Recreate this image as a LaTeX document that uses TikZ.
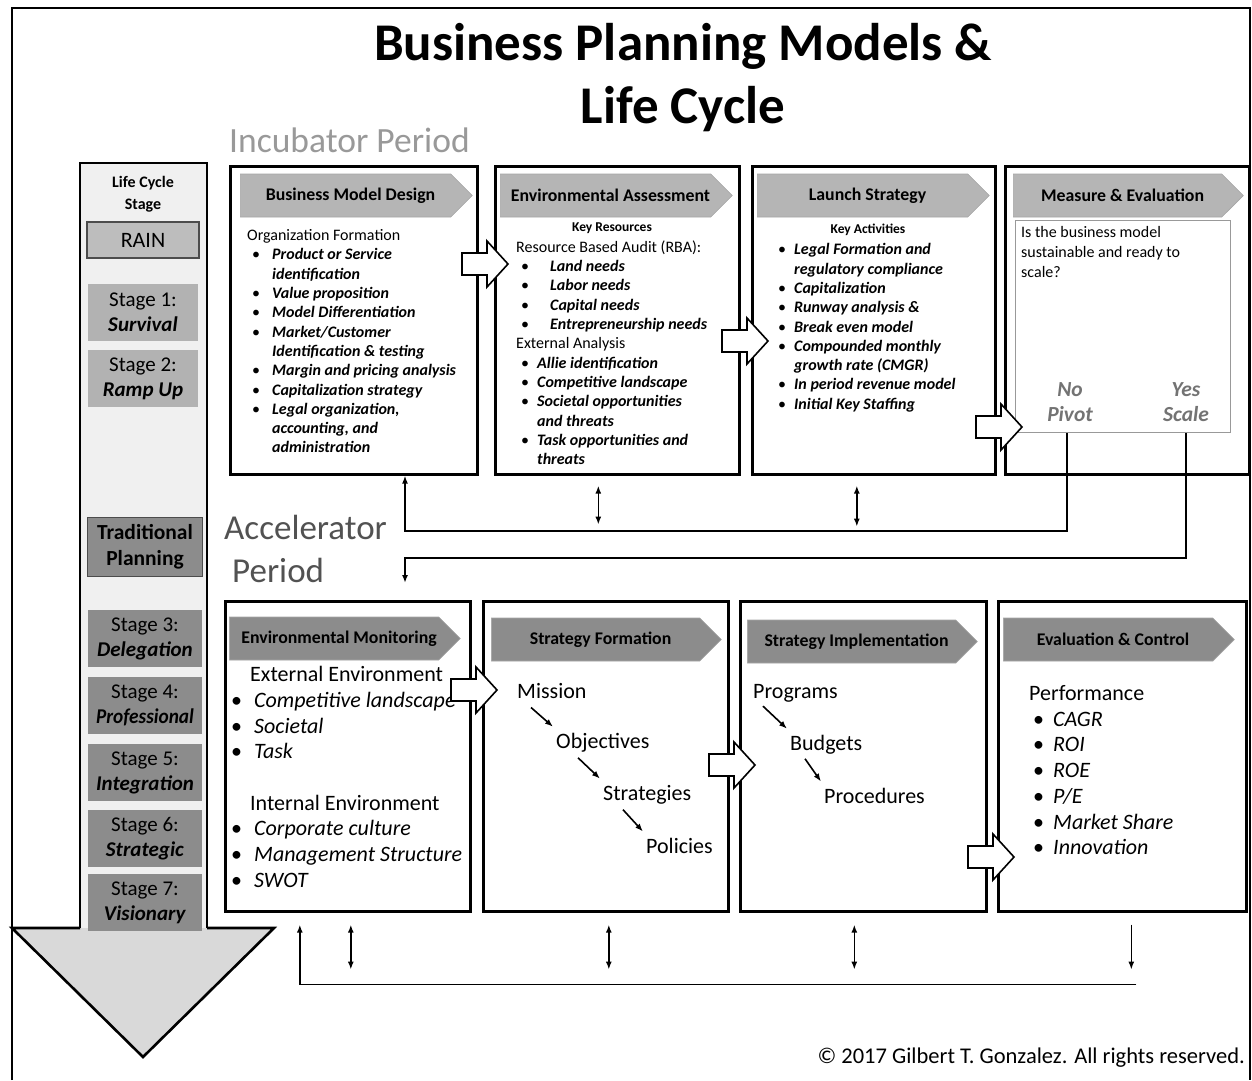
\documentclass[tikz,border=0pt]{standalone}
\usepackage{fontspec}
\setmainfont{Carlito}
\usetikzlibrary{positioning,shapes.symbols,arrows.meta}

\definecolor{barlight}{gray}{0.71}
\definecolor{bardark}{gray}{0.55}
\definecolor{stagelight}{gray}{0.70}
\definecolor{stagedark}{gray}{0.55}
\definecolor{shaft}{gray}{0.94}
\definecolor{arrowhead}{gray}{0.85}

\newcommand{\bul}[2][5pt]{\hspace*{#1}\makebox[#2][l]{\textbullet}}
\newcommand{\bi}[1]{\textbf{\textit{#1}}}
\newcommand{\fs}[2]{\fontsize{#1}{#2}\selectfont}

\begin{document}
\begin{tikzpicture}[x=1pt,y=-1pt,
  panel/.style={draw,line width=2.6pt,fill=white,anchor=north west,inner sep=0pt},
  header/.style={signal,signal to=east,fill=#1,draw=black!35,line width=0.6pt,anchor=west,
    minimum width=232pt,minimum height=43pt,inner sep=0pt,font=\fs{17.8}{20}\bfseries,
    execute at begin node=\hspace*{10pt}},
  notes/.style={anchor=north west,align=left,inner sep=0pt,font=\fs{16}{19.3}},
  bignotes/.style={anchor=north west,align=left,inner sep=0pt,font=\fs{22}{25.7}},
  tag/.style={font=\fs{13.5}{15}\bfseries,inner sep=0pt},
  steplabel/.style={anchor=west,inner sep=0pt,font=\fs{22}{25}},
  stagebox/.style={fill=#1,minimum width=112pt,minimum height=57pt,inner sep=0pt,align=center,font=\fs{21}{25}},
  markbox/.style={fill=#1,draw=black!70,line width=1.4pt,inner sep=0pt,align=center},
  decision/.style={align=center,inner sep=0pt,text=black!55,font=\fs{21.5}{25}\bfseries\itshape},
  flow/.style={line width=1.6pt,-{Latex[length=8pt,width=6pt]}},
  twoway/.style={line width=1.6pt,{Latex[length=8pt,width=6pt]}-{Latex[length=8pt,width=6pt]}},
  fatarrow/.pic={\draw[line width=1.6pt,fill=white] (0,-11) -- (25,-11) -- (25,-23) -- (46,0) -- (25,23) -- (25,11) -- (0,11) -- cycle;},
]
\useasboundingbox (0,0) rectangle (1252,1080);
\draw[line width=1.5pt] (12,1080) -- (12,8) -- (1250,8) -- (1250,1080);

% titles
\node[font=\fs{53}{63}\bfseries,align=center] (title) at (683,78) {Business Planning Models \&\\Life Cycle};
\node[anchor=west,inner sep=0pt,text=black!40,font=\fs{35.5}{40}] (incubator) at (229,140) {Incubator Period};
\node[anchor=west,inner sep=0pt,text=black!68,font=\fs{35}{43},align=left] (accelerator) at (224,549) {Accelerator\\\hspace*{8pt}Period};
\node[anchor=east,inner sep=0pt,font=\fs{22.5}{26}] (copyright) at (1245,1058) {\textcopyright{} 2017 Gilbert T. Gonzalez. All rights reserved.};

% life cycle arrow
\draw[line width=2.6pt,fill=arrowhead] (80,928) -- (12,928) -- (143,1057) -- (274,928) -- (207,928);
\draw[line width=2.6pt,fill=shaft] (80,928) -- (80,163) -- (207,163) -- (207,928);

\node[font=\fs{16}{22}\bfseries,align=center] (lcs) at (143,194) {Life Cycle\\Stage};
\node[markbox=gray!52,minimum width=112pt,minimum height=36pt,font=\fs{22}{24}] (rain) at (143,240) {RAIN};
\node[stagebox=stagelight,minimum width=110pt] (s1) at (143,312) {Stage 1:\\\bi{Survival}};
\node[stagebox=stagelight,minimum width=110pt] (s2) at (143,378.5) {Stage 2:\\\bi{Ramp Up}};
\node[markbox=gray!90,minimum width=115pt,minimum height=59pt,font=\fs{21.5}{26}\bfseries] (trad) at (145,547) {Traditional\\Planning};
\foreach \n/\what/\y in {3/Delegation/638.5,4/\scalebox{0.92}[1]{Professional}/705.5,5/Integration/772.5,6/Strategic/838.5,7/Visionary/902.5}
  \node[stagebox=stagedark,minimum width=114pt] (s\n) at (145,\y) {Stage \n:\\\bi{\what}};

% incubator row
\node[panel,minimum width=247pt,minimum height=308pt] (bmd) at (229,165) {};
\node[panel,minimum width=244pt,minimum height=308pt] (envassess) at (494,165) {};
\node[panel,minimum width=243pt,minimum height=308pt] (launch) at (751,165) {};
\node[panel,minimum width=244pt,minimum height=308pt] (measure) at (1004,165) {};

\node[header=barlight] (bmdhead) at (240,195.5) {Business Model Design};
\node[header=barlight] (eahead) at (500,195.5) {Environmental Assessment};
\node[header=barlight] (lshead) at (757,195.5) {Launch Strategy};
\node[draw=black!40,line width=1pt,fill=white,anchor=north west,minimum width=215pt,minimum height=212pt] (question) at (1015,220) {};
\node[header=barlight,minimum width=230pt] (mehead) at (1013,195.5) {Measure \& Evaluation};

\node[notes] (bmdtext) at (247,229.4) {Organization Formation\\
\bul{20pt}\bi{Product or Service}\\
\hspace*{25pt}\bi{identification}\\
\bul{20pt}\bi{Value proposition}\\
\bul{20pt}\bi{Model Differentiation}\\
\bul{20pt}\bi{Market/Customer}\\
\hspace*{25pt}\bi{Identification \& testing}\\
\bul{20pt}\bi{Margin and pricing analysis}\\
\bul{20pt}\bi{Capitalization strategy}\\
\bul{20pt}\bi{Legal organization,}\\
\hspace*{25pt}\bi{accounting, and}\\
\hspace*{25pt}\bi{administration}};

\node[tag] (keyres) at (612,228) {Key Resources};
\node[notes] (eatext) at (516,240.4) {Resource Based Audit (RBA):\\
\bul{29pt}\bi{Land needs}\\
\bul{29pt}\bi{Labor needs}\\
\bul{29pt}\bi{Capital needs}\\
\bul{29pt}\bi{Entrepreneurship needs}\\
External Analysis\\
\bul{16pt}\bi{Allie identification}\\
\bul{16pt}\bi{Competitive landscape}\\
\bul{16pt}\bi{Societal opportunities}\\
\hspace*{21pt}\bi{and threats}\\
\bul{16pt}\bi{Task opportunities and}\\
\hspace*{21pt}\bi{threats}};

\node[tag] (keyact) at (868,230) {Key Activities};
\node[notes] (lstext) at (773,243.4) {\bul{16pt}\bi{Legal Formation and}\\
\hspace*{21pt}\bi{regulatory compliance}\\
\bul{16pt}\bi{Capitalization}\\
\bul{16pt}\bi{Runway analysis \&}\\
\bul{16pt}\bi{Break even model}\\
\bul{16pt}\bi{Compounded monthly}\\
\hspace*{21pt}\bi{growth rate (CMGR)}\\
\bul{16pt}\bi{In period revenue model}\\
\bul{16pt}\bi{Initial Key Staffing}};

\node[notes,font=\fs{16}{20}] (qtext) at (1021,226.4) {Is the business model\\sustainable and ready to\\scale?};
\node[decision] (nopivot) at (1070,402) {No\\Pivot};
\node[decision] (yesscale) at (1186,402) {Yes\\Scale};

% accelerator row
\node[panel,minimum width=245pt,minimum height=310pt] (envmon) at (224,600) {};
\node[panel,minimum width=245pt,minimum height=310pt] (stratform) at (482,600) {};
\node[panel,minimum width=246pt,minimum height=310pt] (stratimpl) at (739,600) {};
\node[panel,minimum width=248pt,minimum height=310pt] (evalctrl) at (997,600) {};

\node[header=bardark,minimum width=231pt] (emhead) at (229,638.5) {Environmental Monitoring};
\node[header=bardark,minimum width=230pt] (sfhead) at (491,639.5) {Strategy Formation};
\node[header=bardark,minimum width=230pt] (sihead) at (747,641.5) {Strategy Implementation};
\node[header=bardark,minimum width=231pt] (echead) at (1003,639.5) {Evaluation \& Control};

\node[bignotes] (emtext) at (229,666.3) {\hspace*{21pt}External Environment\\
\bul[2pt]{23pt}\textit{Competitive landscape}\\
\bul[2pt]{23pt}\textit{Societal}\\
\bul[2pt]{23pt}\textit{Task}\\[25.7pt]
\hspace*{21pt}Internal Environment\\
\bul[2pt]{23pt}\textit{Corporate culture}\\
\bul[2pt]{23pt}\textit{Management Structure}\\
\bul[2pt]{23pt}\textit{SWOT}};

\node[steplabel] (mission) at (517,691) {Mission};
\node[steplabel] (objectives) at (556,743) {Objectives};
\node[steplabel] (strategies) at (603,795) {Strategies};
\node[steplabel] (policies) at (646,846) {Policies};
\foreach \a/\b/\dx in {mission/objectives/14,objectives/strategies/22,strategies/policies/20}
  \draw[flow] ([shift={(\dx,9)}]\a.base west) -- ([shift={(-3,-22)}]\b.base west);

\node[steplabel] (programs) at (753,693) {Programs};
\node[steplabel] (budgets) at (790,745) {Budgets};
\node[steplabel] (procedures) at (824,796) {Procedures};
\foreach \a/\b/\dx in {programs/budgets/10,budgets/procedures/15}
  \draw[flow] ([shift={(\dx,8)}]\a.base west) -- ([shift={(-3,-22)}]\b.base west);

\node[bignotes] (ectext) at (1029,685.3) {Performance\\
\bul[4pt]{20pt}\textit{CAGR}\\
\bul[4pt]{20pt}\textit{ROI}\\
\bul[4pt]{20pt}\textit{ROE}\\
\bul[4pt]{20pt}\textit{P/E}\\
\bul[4pt]{20pt}\textit{Market Share}\\
\bul[4pt]{20pt}\textit{Innovation}};

% hand-over arrows between panels
\pic at (462,264) {fatarrow};
\pic at (722,341) {fatarrow};
\pic at (976,427) {fatarrow};
\pic at (451,690) {fatarrow};
\pic at (709,765) {fatarrow};
\pic at (968,857) {fatarrow};

% feedback and hand-down lines
\coordinate (back) at (405,531);
\coordinate (down) at (405,558);
\draw[flow] ([xshift=-3pt]nopivot.south |- question.south) |- (back) -- (back |- bmd.south);
\draw[flow] (yesscale.south |- question.south) |- (down) -- ([yshift=17pt]down |- envmon.north);
\draw[twoway] ([xshift=-19pt,yshift=-10pt]envassess.south) -- ++(0,39);
\draw[twoway] ([xshift=-17pt,yshift=-10pt]launch.south) -- ++(0,41);

\draw[twoway] ([xshift=3pt,yshift=-12pt]envmon.south) -- ++(0,45);
\draw[twoway] ([xshift=3pt,yshift=-12pt]stratform.south) -- ++(0,45);
\draw[twoway] ([xshift=-9pt,yshift=-12pt]stratimpl.south) -- ++(0,45);
\draw[flow] ([xshift=9pt,yshift=-12pt]evalctrl.south) -- ++(0,45);
\draw[flow] ([xshift=14pt,yshift=-72pt]evalctrl.south) -| ([xshift=-48pt,yshift=-12pt]envmon.south);
\end{tikzpicture}
\end{document}
